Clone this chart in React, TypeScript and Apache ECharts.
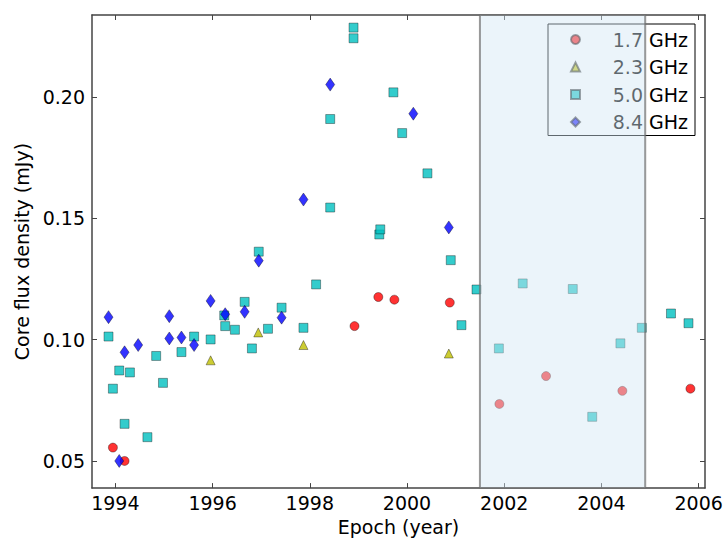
import React, { useEffect, useRef } from "react";
import * as echarts from "echarts";

const xTicks = [1994, 1996, 1998, 2000, 2002, 2004, 2006];
const yTicks = [0.05, 0.1, 0.15, 0.2];

const legendNames = ["1.7 GHz", "2.3 GHz", "5.0 GHz", "8.4 GHz"];

const flux17: [number, number][] = [
  [1993.95, 0.0555], [1994.19, 0.05], [1998.92, 0.1056], [1999.41, 0.1176],
  [1999.74, 0.1165], [2000.88, 0.1153], [2001.9, 0.0735], [2002.86, 0.085],
  [2004.43, 0.0789], [2005.83, 0.0798],
];

const flux23: [number, number][] = [
  [1995.96, 0.0915], [1996.94, 0.103], [1997.87, 0.0978], [2000.86, 0.0943],
];

const flux50: [number, number][] = [
  [1993.86, 0.1013], [1993.95, 0.0798], [1994.08, 0.0873], [1994.19, 0.0653],
  [1994.3, 0.0865], [1994.66, 0.0598], [1994.84, 0.0933], [1994.98, 0.0822],
  [1995.36, 0.0949], [1995.62, 0.1013], [1995.96, 0.1001], [1996.24, 0.11],
  [1996.26, 0.1056], [1996.46, 0.1041], [1996.66, 0.1156], [1996.81, 0.0964],
  [1996.95, 0.1363], [1997.14, 0.1045], [1997.42, 0.1132], [1997.87, 0.1049],
  [1998.13, 0.1228], [1998.42, 0.191], [1998.42, 0.1545], [1998.9, 0.2287],
  [1998.9, 0.2243], [1999.43, 0.1434], [1999.45, 0.1455], [1999.72, 0.202],
  [1999.9, 0.1852], [2000.42, 0.1686], [2000.9, 0.1328], [2001.12, 0.106],
  [2001.43, 0.1207], [2001.89, 0.0964], [2002.38, 0.1232], [2003.41, 0.1209],
  [2003.81, 0.0682], [2004.39, 0.0985], [2004.83, 0.1049], [2005.43, 0.1108],
  [2005.79, 0.1068],
];

const flux84: [number, number][] = [
  [1993.86, 0.1093], [1994.08, 0.05], [1994.19, 0.0948], [1994.47, 0.0978],
  [1995.11, 0.1097], [1995.11, 0.1005], [1995.36, 0.1009], [1995.62, 0.0978],
  [1995.96, 0.116], [1996.26, 0.1105], [1996.66, 0.1115], [1996.95, 0.1326],
  [1997.42, 0.1091], [1997.87, 0.1578], [1998.42, 0.2052], [2000.13, 0.1932],
  [2000.86, 0.1463],
];

const shadeSpan = [2001.5, 2004.9];

const FONT = "DejaVu Sans";

export default function App() {
  const ref = useRef<HTMLDivElement>(null);
  useEffect(() => {
    if (!ref.current) return;
    const chart = echarts.init(ref.current, null, { renderer: "svg" });
    const axisLine = { show: true, lineStyle: { color: "#444", width: 1.5 } };
    const tickStyle = { lineStyle: { color: "#444", width: 1 } };
    const xMin = 1993.52, xMax = 2006.13, yMin = 0.0388, yMax = 0.2339;
    const edge = { borderColor: "rgba(0,0,0,0.75)", borderWidth: 0.6 };
    chart.setOption({
      animation: false,
      grid: { left: 92, right: 22, top: 15, bottom: 50 },
      legend: {
        orient: "vertical",
        left: 548,
        top: 24,
        data: legendNames,
        padding: [6, 7, 4, 22],
        itemWidth: 9,
        itemHeight: 9,
        itemGap: 8.5,
        backgroundColor: "#fff",
        borderColor: "#000",
        borderWidth: 1,
        borderRadius: 0,
        formatter: (n: string) => `{t|${n}}`,
        textStyle: {
          rich: {
            t: { width: 103, align: "right", fontSize: 19, lineHeight: 20, fontFamily: FONT, color: "#000" },
          },
        },
      },
      xAxis: [
        {
          type: "value",
          min: xMin,
          max: xMax,
          name: "Epoch (year)",
          nameLocation: "middle",
          nameGap: 27,
          nameTextStyle: { fontSize: 19, fontFamily: FONT, color: "#000" },
          axisLine,
          splitLine: { show: false },
          axisTick: { inside: true, length: 5, customValues: xTicks, ...tickStyle },
          axisLabel: { customValues: xTicks, fontSize: 19, fontFamily: FONT, color: "#000", margin: 5, formatter: (v: number) => String(Math.round(v)) },
        },
        {
          type: "value",
          position: "top",
          min: xMin,
          max: xMax,
          axisLine,
          splitLine: { show: false },
          axisTick: { inside: true, length: 5, customValues: xTicks, ...tickStyle },
          axisLabel: { show: false },
        },
      ],
      yAxis: [
        {
          type: "value",
          min: yMin,
          max: yMax,
          name: "Core flux density (mJy)",
          nameLocation: "middle",
          nameGap: 52,
          nameTextStyle: { fontSize: 19, fontFamily: FONT, color: "#000" },
          axisLine,
          splitLine: { show: false },
          axisTick: { inside: true, length: 5, customValues: yTicks, ...tickStyle },
          axisLabel: { customValues: yTicks, fontSize: 19, fontFamily: FONT, color: "#000", margin: 7, formatter: (v: number) => v.toFixed(2) },
        },
        {
          type: "value",
          position: "right",
          min: yMin,
          max: yMax,
          axisLine,
          splitLine: { show: false },
          axisTick: { inside: true, length: 5, customValues: yTicks, ...tickStyle },
          axisLabel: { show: false },
        },
      ],
      series: [
        {
          name: legendNames[0], type: "scatter", symbol: "circle", symbolSize: 9,
          itemStyle: { color: "#ff0000", ...edge }, data: flux17,
        },
        {
          name: legendNames[1], type: "scatter", symbol: "triangle", symbolSize: 9,
          itemStyle: { color: "#bfbf00", ...edge }, data: flux23,
        },
        {
          name: legendNames[2], type: "scatter", symbol: "rect", symbolSize: 9,
          itemStyle: { color: "#00bfbf", ...edge }, data: flux50,
        },
        {
          name: legendNames[3], type: "scatter", symbol: "diamond", symbolSize: [9, 13],
          itemStyle: { color: "#0000ff", ...edge }, data: flux84,
        },
        {
          name: "shade", type: "scatter", data: [], z: 10, silent: true,
          markArea: {
            z: 10,
            silent: true,
            itemStyle: { color: "rgba(210,230,245,0.45)", borderColor: "rgba(110,110,110,0.7)", borderWidth: 2 },
            data: [[{ xAxis: shadeSpan[0] }, { xAxis: shadeSpan[1] }]],
          },
        },
      ],
    });
    return () => chart.dispose();
  }, []);
  return <div ref={ref} style={{ width: 727, height: 541, position: "absolute", left: 0, top: 0 }} />;
}
